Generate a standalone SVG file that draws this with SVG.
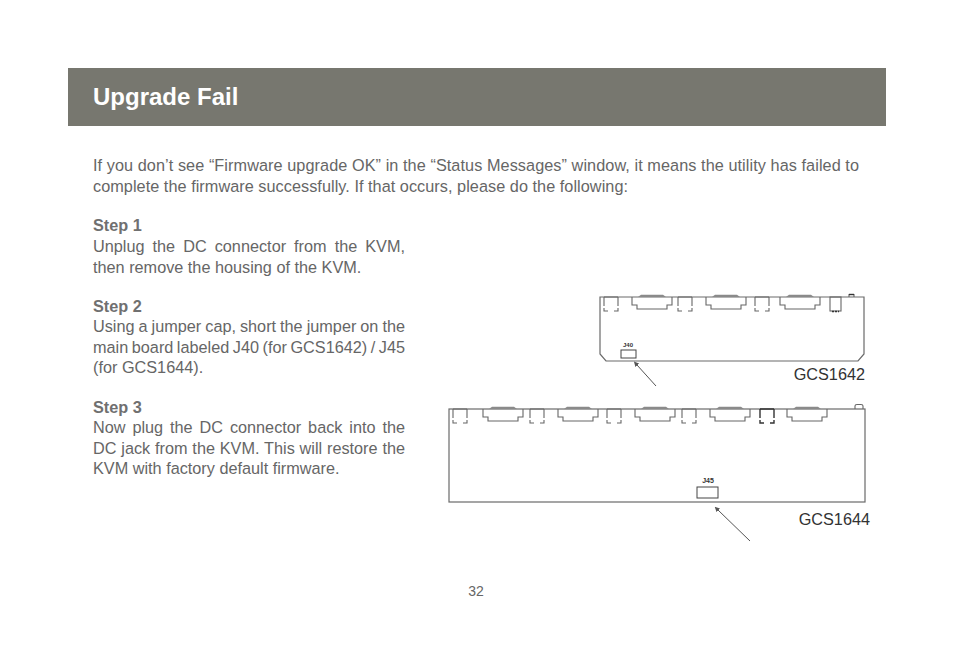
<svg xmlns="http://www.w3.org/2000/svg" width="954" height="665" viewBox="0 0 954 665">
<style>
  .body { font-family: "Liberation Sans", Arial, sans-serif; font-size: 16.25px; fill: #666666; }
  .head { font-family: "Liberation Sans", Arial, sans-serif; font-size: 16.25px; font-weight: bold; fill: #707070; }
  .title { font-family: "Liberation Sans", Arial, sans-serif; font-size: 24px; font-weight: bold; fill: #ffffff; }
  .model { font-family: "Liberation Sans", Arial, sans-serif; font-size: 16.25px; fill: #333333; }
  .jlab { font-family: "Liberation Sans", Arial, sans-serif; font-weight: bold; fill: #333333; }
  .board { fill: none; stroke: #6a6a6a; stroke-width: 1.2; }
  .conn { fill: none; stroke: #666666; stroke-width: 1.1; }
  .dark { stroke: #333333; stroke-width: 1.4; }
  .bar { fill: #8a8a8a; stroke: none; }
  .jbox { fill: #ffffff; stroke: #444444; stroke-width: 1; }
  .lead { stroke: #555555; stroke-width: 1; fill: none; }
</style>
<defs>
  <path id="small" d="M0,0 H14 M0,0 V9 M0,11 V14 H4 M10,14 H14 V11 M14,9 V0"/>
  <g id="dsub">
    <path d="M0,0 V8 H5 V12 H35 V8 H40 V0" class="conn"/>
    <polygon points="6,0 9,-2.2 31,-2.2 34,0" class="bar"/>
  </g>
  <marker id="tip" viewBox="0 0 6 6" refX="0.5" refY="3" markerWidth="5" markerHeight="5" orient="auto-start-reverse">
    <path d="M0,0 L6,3 L0,6 Z" fill="#555555"/>
  </marker>
</defs>

<rect id="title-band" x="68" y="68" width="818" height="58" fill="#77776f"/>
<text class="title" x="93" y="105">Upgrade Fail</text>

<g id="intro">
  <text class="body" x="93" y="171" textLength="766" lengthAdjust="spacing">If you don’t see “Firmware upgrade OK” in the “Status Messages” window, it means the utility has failed to</text>
  <text class="body" x="93" y="192" textLength="535" lengthAdjust="spacing">complete the firmware successfully. If that occurs, please do the following:</text>
</g>

<g id="step1">
  <text class="head" x="93" y="231">Step 1</text>
  <text class="body" x="93" y="252" word-spacing="3.5" textLength="312" lengthAdjust="spacing">Unplug the DC connector from the KVM,</text>
  <text class="body" x="93" y="273">then remove the housing of the KVM.</text>
</g>

<g id="step2">
  <text class="head" x="93" y="312">Step 2</text>
  <text class="body" x="93" y="332" word-spacing="-0.5" textLength="312" lengthAdjust="spacing">Using a jumper cap, short the jumper on the</text>
  <text class="body" x="93" y="353" word-spacing="-1" textLength="312" lengthAdjust="spacing">main board labeled J40 (for GCS1642) / J45</text>
  <text class="body" x="93" y="373">(for GCS1644).</text>
</g>

<g id="step3">
  <text class="head" x="93" y="413">Step 3</text>
  <text class="body" x="93" y="433" word-spacing="2.4" textLength="312" lengthAdjust="spacing">Now plug the DC connector back into the</text>
  <text class="body" x="93" y="454" word-spacing="0.3" textLength="312" lengthAdjust="spacing">DC jack from the KVM. This will restore the</text>
  <text class="body" x="93" y="474">KVM with factory default firmware.</text>
</g>

<g id="board-gcs1642">
  <path class="board" d="M600,297 H864 V354 L858,361 H606 L600,354 Z"/>
  <use href="#small" x="604" y="297" class="conn"/>
  <use href="#dsub" x="632" y="297"/>
  <use href="#small" x="678" y="297" class="conn"/>
  <use href="#dsub" x="706" y="297"/>
  <use href="#small" x="755" y="297" class="conn"/>
  <use href="#dsub" x="780" y="297"/>
  <rect x="830" y="297" width="11" height="14" class="conn"/>
  <path d="M832,311.5 H839" stroke="#333" stroke-width="1.6" stroke-dasharray="2,1"/>
  <path d="M849,297 V294.5 H854 V297" class="conn"/>
  <path d="M849,294.5 H854" stroke="#333" stroke-width="1.4"/>
  <text class="jlab" x="623" y="347" font-size="6">J40</text>
  <rect class="jbox" x="621" y="350" width="15" height="8"/>
  <text class="model" x="865" y="380" text-anchor="end">GCS1642</text>
</g>

<g id="board-gcs1644">
  <rect class="board" x="449" y="409" width="416" height="93"/>
  <use href="#small" x="453" y="409" class="conn"/>
  <use href="#dsub" x="483" y="409"/>
  <use href="#small" x="530" y="409" class="conn"/>
  <use href="#dsub" x="558" y="409"/>
  <use href="#small" x="607" y="409" class="conn"/>
  <use href="#dsub" x="635" y="409"/>
  <use href="#small" x="682" y="409" class="conn"/>
  <use href="#dsub" x="710" y="409"/>
  <use href="#small" x="760" y="409" class="conn dark"/>
  <use href="#dsub" x="787" y="409"/>
  <path d="M855,409 V406 Q855,404.5 857,404.5 H861 Q863,404.5 863,406 V409" class="conn"/>
  <text class="jlab" x="708" y="483" font-size="7" text-anchor="middle">J45</text>
  <rect class="jbox" x="697" y="487" width="21" height="11"/>
  <text class="model" x="870" y="525" text-anchor="end">GCS1644</text>
</g>

<g id="connectors">
  <line class="lead" x1="656" y1="386" x2="637" y2="365" marker-end="url(#tip)"/>
  <line class="lead" x1="750" y1="541" x2="718" y2="510" marker-end="url(#tip)"/>
</g>

<text id="page-number" x="476" y="596" text-anchor="middle" style="font-family:'Liberation Sans', Arial, sans-serif; font-size:14px; fill:#666666;">32</text>
</svg>
